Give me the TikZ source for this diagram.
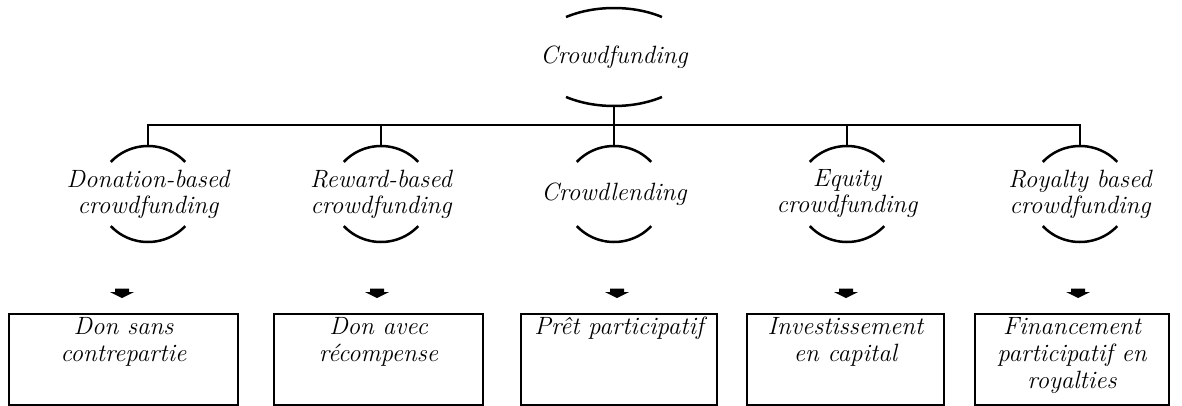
\documentclass[tikz,border=0pt]{standalone}
\usepackage{fontspec}
\usetikzlibrary{calc}
\begin{document}
\begin{tikzpicture}[x=1pt,y=-1pt,
  lbl/.style={align=center, font=\fontsize{25}{26}\selectfont\itshape, inner sep=0pt},
  conn/.style={line width=2.8pt},
  brk/.style={line width=2.5pt},
  box/.style={draw, line width=2pt, inner sep=0pt, anchor=north west},
  blockarrow/.pic={\fill (-7,0) -- (7,0) -- (7,3.5) -- (12,3.5) -- (0,9.5) -- (-12,3.5) -- (-7,3.5) -- cycle;}
]
\newcommand{\boxtext}[2]{\parbox[t][91pt][t]{#1}{\centering\fontsize{25}{27}\selectfont\itshape\rule{0pt}{20pt}#2\par}}
\useasboundingbox (0,0) rectangle (1182,405);

% root
\node[lbl] (root) at (614,57) {Crowdfunding};
\draw[brk] (root.center) ++(234.7:83 and 49) arc[start angle=234.7, end angle=305.3, x radius=83, y radius=49];
\draw[brk] (root.center) ++(54.7:83 and 49) arc[start angle=54.7, end angle=125.3, x radius=83, y radius=49];
\path (root.center) ++(0,49) coordinate (rootb);

% children
\node[lbl] (c1) at (148,194) {Donation-based\\crowdfunding};
\node[lbl] (c2) at (381,194) {Reward-based\\crowdfunding};
\node[lbl] (c3) at (614,194) {Crowdlending};
\node[lbl] (c4) at (847,194) {Equity\\crowdfunding};
\node[lbl] (c5) at (1080,194) {Royalty based\\crowdfunding};

\foreach \n in {c1,c2,c3,c4,c5}{
  \draw[brk] (\n.center) ++(222:50 and 48) arc[start angle=222, end angle=318, x radius=50, y radius=48];
  \draw[brk] (\n.center) ++(42:50 and 48) arc[start angle=42, end angle=138, x radius=50, y radius=48];
  \path (\n.center) ++(0,-48) coordinate (\n-t);
}

% connectors
\coordinate (bus) at (614,125);
\draw[conn] (rootb) -- (bus);
\foreach \n in {c1,c2,c3,c4,c5}{
  \draw[conn] (\n-t) |- (bus);
}

% arrows
\pic at (122,288.5) {blockarrow};
\pic at (377,288.5) {blockarrow};
\pic at (617,288.5) {blockarrow};
\pic at (846,288.5) {blockarrow};
\pic at (1078,288.5) {blockarrow};

% boxes
\node[box] (b1) at (8,313) {\boxtext{229pt}{Don sans\\contrepartie}};
\node[box] (b2) at (273,313) {\boxtext{209pt}{Don avec\\récompense}};
\node[box] (b3) at (520,313) {\boxtext{196pt}{Prêt participatif}};
\node[box] (b4) at (746,313) {\boxtext{197pt}{Investissement\\en capital}};
\node[box] (b5) at (974,313) {\boxtext{194pt}{Financement\\participatif en\\royalties}};
\end{tikzpicture}
\end{document}
